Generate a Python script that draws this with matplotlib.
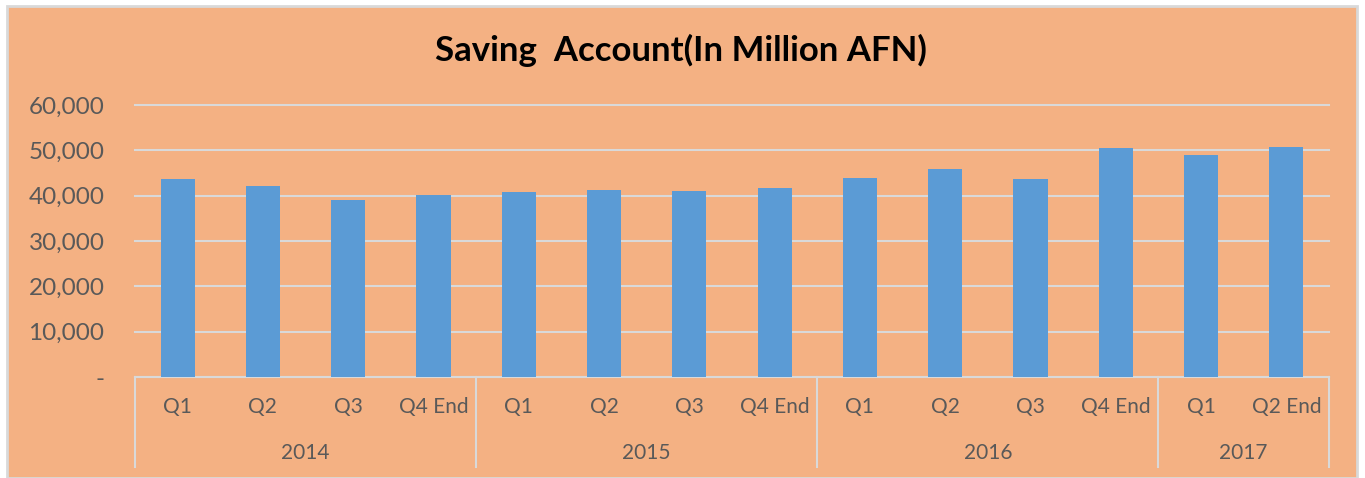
import matplotlib.pyplot as plt
import matplotlib.transforms as mtransforms
from matplotlib.patches import Rectangle
from matplotlib.ticker import FuncFormatter

# data
years = ['2014', '2015', '2016', '2017']
quarters = ['Q1', 'Q2', 'Q3', 'Q4 End',
            'Q1', 'Q2', 'Q3', 'Q4 End',
            'Q1', 'Q2', 'Q3', 'Q4 End',
            'Q1', 'Q2 End']
quartersPerYear = [4, 4, 4, 2]
savings = [43600, 42100, 39100, 40200,
           40700, 41350, 41000, 41700,
           44000, 45850, 43600, 50500,
           49000, 50750]

bgColor = '#F4B183'
barColor = '#5B9BD5'
gridColor = '#D9D9D9'
textColor = '#595959'

plt.rcParams['font.family'] = ['Lato', 'DejaVu Sans']

fig = plt.figure(figsize=(13.65, 4.78), dpi=100, facecolor='white')
# orange chart area with light grey border, kept behind the axes
fig.patches.append(Rectangle((7 / 1365, 0), 1350 / 1365, 472 / 478,
                             transform=fig.transFigure, facecolor=bgColor,
                             edgecolor=gridColor, linewidth=2, zorder=-10))

ax = fig.add_axes([135 / 1365, 1 - 377 / 478, 1194 / 1365, 272 / 478])
ax.set_facecolor('none')

x = list(range(len(savings)))
ax.bar(x, savings, width=0.4, color=barColor, zorder=3)

ax.set_xlim(-0.5, len(savings) - 0.5)
ax.set_ylim(0, 60000)
ax.set_yticks(range(0, 60001, 10000))
ax.yaxis.set_major_formatter(FuncFormatter(lambda v, p: '-' if v == 0 else f'{int(v):,}'))
ax.tick_params(axis='y', length=0, pad=22, labelsize=17.5, labelcolor=textColor)
ax.set_xticks([])
ax.grid(axis='y', color=gridColor, linewidth=1.5, zorder=1)
# keep the top gridline whole
for line in ax.get_ygridlines():
    line.set_clip_on(False)
for side in ['left', 'right', 'top']:
    ax.spines[side].set_visible(False)
ax.spines['bottom'].set_color(gridColor)
ax.spines['bottom'].set_linewidth(1.5)

# two level category axis
trans = mtransforms.blended_transform_factory(ax.transData, ax.transAxes)
for i, q in enumerate(quarters):
    ax.text(i, -0.112, q, transform=trans, ha='center', va='center',
            fontsize=15, color=textColor)

start = -0.5
ax.plot([start, start], [0, -0.331], transform=trans, color=gridColor,
        linewidth=1.5, clip_on=False)
for year, n in zip(years, quartersPerYear):
    end = start + n
    ax.plot([end, end], [0, -0.331], transform=trans, color=gridColor,
            linewidth=1.5, clip_on=False)
    ax.text((start + end) / 2, -0.279, year, transform=trans, ha='center',
            va='center', fontsize=15, color=textColor)
    start = end

fig.text(681 / 1365, 1 - 50 / 478, 'Saving  Account(In Million AFN)',
         ha='center', va='center', fontsize=25, fontweight='bold', color='black')

fig.savefig('out.png', dpi=100, facecolor=fig.get_facecolor())
